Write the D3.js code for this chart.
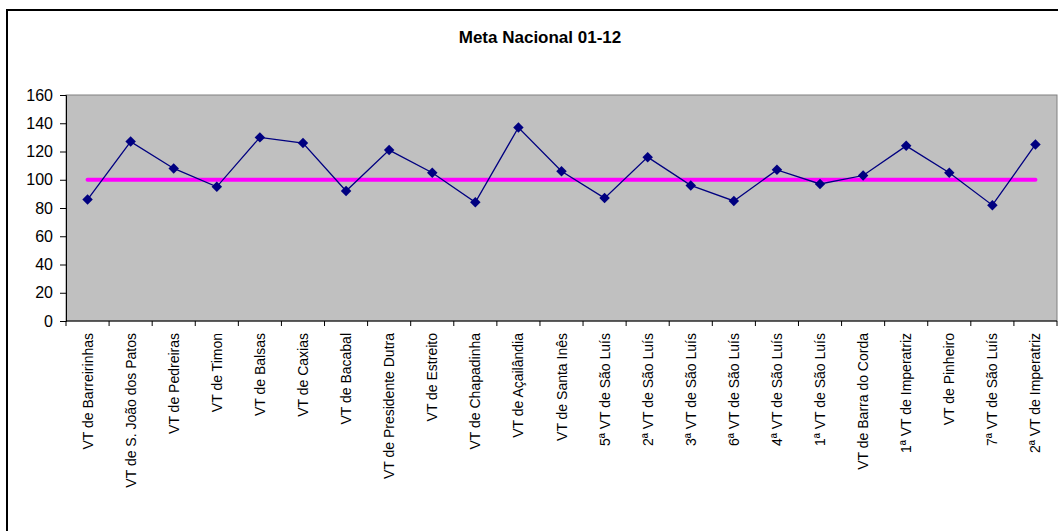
<!DOCTYPE html>
<html>
<head>
<meta charset="utf-8">
<script src="https://cdn.jsdelivr.net/npm/d3@7/dist/d3.min.js"></script>
<style>
  body { margin: 0; background: #fff; }
  svg { display: block; font-family: Arial, "Liberation Sans", sans-serif; }
</style>
</head>
<body>
<svg id="chart"></svg>
<script>
// chart data
const categories = [
  'VT de Barreirinhas', 'VT de S. João dos Patos', 'VT de Pedreiras', 'VT de Timon',
  'VT de Balsas', 'VT de Caxias', 'VT de Bacabal', 'VT de Presidente Dutra',
  'VT de Estreito', 'VT de Chapadinha', 'VT de Açailândia', 'VT de Santa Inês',
  '5ª VT de São Luís', '2ª VT de São Luís', '3ª VT de São Luís', '6ª VT de São Luís',
  '4ª VT de São Luís', '1ª VT de São Luís', 'VT de Barra do Corda', '1ª VT de Imperatriz',
  'VT de Pinheiro', '7ª VT de São Luís', '2ª VT de Imperatriz'
];
const values = [86, 127, 108, 95, 130, 126, 92, 121, 105, 84, 137, 106,
  87, 116, 96, 85, 107, 97, 103, 124, 105, 82, 125];
const metaValue = 100;
const yTicks = [0, 20, 40, 60, 80, 100, 120, 140, 160];
const title = 'Meta Nacional 01-12';

const width = 1058;
const height = 531;
// plot area box
const plot = { left: 66, top: 95, right: 1057, bottom: 321 };

const svg = d3.select('#chart')
  .attr('width', width)
  .attr('height', height);

// outer chart frame (only top and left are visible in the picture)
svg.append('rect')
  .attr('x', 7).attr('y', 10)
  .attr('width', width + 20).attr('height', height + 20)
  .attr('fill', 'none')
  .attr('stroke', '#000')
  .attr('stroke-width', 2);

svg.append('text')
  .attr('x', 540).attr('y', 43)
  .attr('text-anchor', 'middle')
  .attr('font-size', 17)
  .attr('font-weight', 'bold')
  .text(title);

const x = d3.scaleBand()
  .domain(categories)
  .range([plot.left, plot.right])
  .padding(0);
const y = d3.scaleLinear()
  .domain([0, 160])
  .range([plot.bottom, plot.top]);
const cx = d => x(d) + x.bandwidth() / 2;

// plot background
svg.append('rect')
  .attr('x', plot.left).attr('y', plot.top)
  .attr('width', plot.right - plot.left)
  .attr('height', plot.bottom - plot.top)
  .attr('fill', '#c0c0c0')
  .attr('stroke', '#808080')
  .attr('stroke-width', 1);

// y axis
const yAxis = svg.append('g')
  .attr('transform', `translate(${plot.left},0)`)
  .call(d3.axisLeft(y).tickValues(yTicks).tickSize(6).tickPadding(7));
yAxis.select('.domain').attr('stroke', '#000');
yAxis.selectAll('.tick line').attr('stroke', '#000');
yAxis.selectAll('.tick text')
  .attr('font-size', 16)
  .attr('font-family', 'Arial, "Liberation Sans", sans-serif')
  .attr('fill', '#000');

// x axis: ticks on band edges, labels rotated
const xg = svg.append('g');
xg.append('line')
  .attr('x1', plot.left).attr('x2', plot.right)
  .attr('y1', plot.bottom).attr('y2', plot.bottom)
  .attr('stroke', '#000');
const edges = categories.map(d => x(d)).concat([plot.right]);
xg.selectAll('line.tick')
  .data(edges)
  .enter()
  .append('line')
  .attr('class', 'tick')
  .attr('x1', d => d).attr('x2', d => d)
  .attr('y1', plot.bottom).attr('y2', plot.bottom + 5)
  .attr('stroke', '#000');
xg.selectAll('text')
  .data(categories)
  .enter()
  .append('text')
  .attr('transform', d => `translate(${cx(d) + 5},${plot.bottom + 12}) rotate(-90)`)
  .attr('text-anchor', 'end')
  .attr('font-size', 14)
  .attr('fill', '#000')
  .text(d => d);

// national goal line
svg.append('line')
  .attr('x1', cx(categories[0]))
  .attr('x2', cx(categories[categories.length - 1]))
  .attr('y1', y(metaValue)).attr('y2', y(metaValue))
  .attr('stroke', '#ff00ff')
  .attr('stroke-width', 4)
  .attr('stroke-linecap', 'round');

// series line + diamond markers
const line = d3.line()
  .x((d, i) => cx(categories[i]))
  .y(d => y(d));
svg.append('path')
  .datum(values)
  .attr('d', line)
  .attr('fill', 'none')
  .attr('stroke', '#000080')
  .attr('stroke-width', 1.3);

svg.selectAll('path.marker')
  .data(values)
  .enter()
  .append('path')
  .attr('class', 'marker')
  .attr('d', d3.symbol().type(d3.symbolDiamond2).size(70))
  .attr('transform', (d, i) => `translate(${cx(categories[i])},${y(d)})`)
  .attr('fill', '#000080');
</script>
</body>
</html>
